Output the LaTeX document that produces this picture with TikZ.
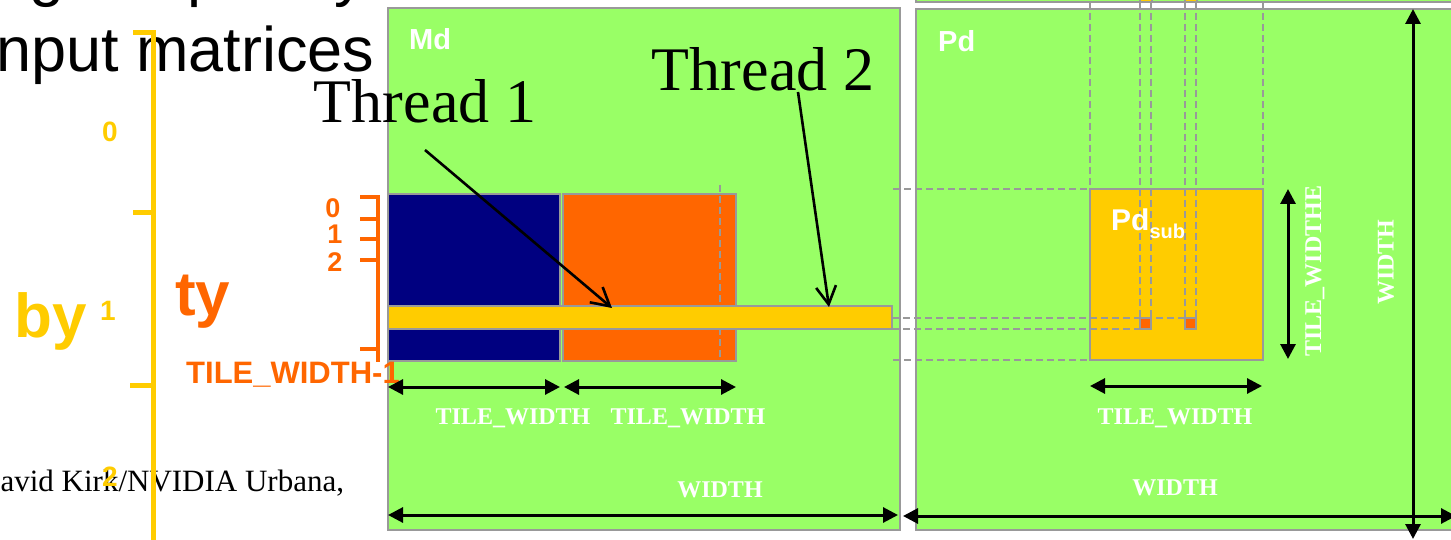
\documentclass[tikz,border=0pt]{standalone}
\usepackage{fontspec}
\setmainfont{Liberation Serif}
\setsansfont{Liberation Sans}
\usetikzlibrary{arrows.meta}

\definecolor{mgreen}{HTML}{99FF66}
\definecolor{mgray}{HTML}{999999}
\definecolor{mnavy}{HTML}{000080}
\definecolor{morange}{HTML}{FF6600}
\definecolor{myellow}{HTML}{FFCC00}

\newcommand{\fsz}[1]{\fontsize{#1}{#1}\selectfont}

\begin{document}
\begin{tikzpicture}[x=1pt,y=-1pt,
  box/.style={draw=mgray,line width=2.2pt,inner sep=0pt,outer sep=0pt},
  guide/.style={draw=mgray,line width=2pt,dash pattern=on 7pt off 4pt},
  dimline/.style={line width=3pt,{Triangle[length=15pt,width=15pt]}-{Triangle[length=15pt,width=15pt]}},
  pointer/.style={line width=2.6pt,-{Straight Barb[length=18pt,width=20pt]}},
  dimlabel/.style={text=white,font=\rmfamily\bfseries\fsz{24},inner sep=0pt},
  boxlabel/.style={text=white,font=\sffamily\bfseries\fsz{29},inner sep=0pt,anchor=base west},
  axisy/.style={draw=myellow,line width=5pt},
  axiso/.style={draw=morange,line width=4pt},
  ylabel/.style={text=myellow,font=\sffamily\bfseries\fsz{28},inner sep=0pt},
  olabel/.style={text=morange,font=\sffamily\bfseries\fsz{27},inner sep=0pt},
  title/.style={font=\sffamily\fsz{63},inner sep=0pt},
  threadlabel/.style={font=\rmfamily\fsz{62},inner sep=0pt,anchor=base}
]
\useasboundingbox (0,0) rectangle (1451,540);

% slide text behind the figure
\node[title,anchor=base east] (line1) at (366,-5) {using temporary};
\node[title,anchor=base west] (line2) at (-18,72) {input matrices};
\node[font=\rmfamily\fsz{31},inner sep=0pt,anchor=base west] (footer) at (-22,491) {David Kirk/NVIDIA Urbana,};

% block index axis
\draw[axisy] (133,33) -- (153,33) -- (153,545);
\draw[axisy] (133,213) -- (153,213);
\draw[axisy] (130,385) -- (153,385);
\node[ylabel] (by0) at (110,132) {0};
\node[ylabel] (by1) at (108,311) {1};
\node[ylabel] (by2) at (110,477) {2};
\node[text=myellow,font=\sffamily\bfseries\fsz{62},inner sep=0pt,anchor=base west] (by) at (14,337) {by};

% matrices
\node[box,fill=mgreen,minimum width=512pt,minimum height=522pt] (md) at (644,269) {};
\node[box,fill=mgreen,minimum width=554pt,minimum height=521pt] (pd) at (1193,269.5) {};
\node[box,fill=mgreen,minimum width=554pt,minimum height=102pt] (nd) at (1193,-49) {};

% tiles of Md
\node[box,fill=mnavy,minimum width=172pt,minimum height=167pt] (mt0) at (474,277.5) {};
\node[box,fill=morange,minimum width=173pt,minimum height=167pt] (mt1) at (649.5,277.5) {};
\draw[guide] (720,185) -- (720,361);
\node[box,fill=myellow,minimum width=504pt,minimum height=23pt] (row) at (640,317.5) {};

% output tile
\node[box,fill=myellow,minimum width=173pt,minimum height=171pt] (pdsub) at (1176.5,274.5) {};

% guide lines
\draw[guide] (893,189) -- (1090,189);
\draw[guide] (893,360) -- (1090,360);
\draw[guide] (892,318) -- (1185,318);
\draw[guide] (892,329) -- (1151,329);
\draw[guide] (1090,2) -- (1090,189);
\draw[guide] (1263,2) -- (1263,189);
\draw[guide] (1140,2) -- (1140,318);
\draw[guide] (1151,2) -- (1151,329);
\draw[guide] (1185,2) -- (1185,318);
\draw[guide] (1196,2) -- (1196,329);

% thread elements
\node[box,fill=morange,minimum width=11pt,minimum height=11pt] (e1) at (1145.5,323.5) {};
\node[box,fill=morange,minimum width=11pt,minimum height=11pt] (e2) at (1190.5,323.5) {};
\node[box,fill=myellow,minimum width=12pt,minimum height=12pt] (n1) at (1146,-4) {};
\node[box,fill=myellow,minimum width=12pt,minimum height=12pt] (n2) at (1191,-4) {};

% labels
\node[boxlabel] (mdl) at (409,50) {Md};
\node[boxlabel] (pdl) at (938,52) {Pd};
\node[boxlabel,font=\sffamily\bfseries\fsz{30}] (pdsubl) at (1111,230) {Pd\raisebox{-8pt}{\fsz{20}sub}};

% thread index axis
\draw[axiso] (360,197) -- (378,197) -- (378,362);
\foreach \yy in {219,239,260,349} \draw[axiso] (360,\yy) -- (378,\yy);
\node[olabel] (ty0) at (333,208) {0};
\node[olabel] (ty1) at (335,234) {1};
\node[olabel] (ty2) at (335,262) {2};
\node[text=morange,font=\sffamily\bfseries\fsz{62},inner sep=0pt,anchor=base west] (ty) at (175,315) {ty};
\node[text=morange,font=\sffamily\bfseries\fsz{31},inner sep=0pt,anchor=base west] (tylast) at (186,383) {TILE\_WIDTH-1};

% dimensions
\coordinate (a1) at (388,387); \coordinate (b1) at (560,387);
\coordinate (a2) at (564,387); \coordinate (b2) at (736,387);
\coordinate (a3) at (388,515); \coordinate (b3) at (898,515);
\coordinate (a4) at (903,516); \coordinate (b4) at (1456,516);
\coordinate (a5) at (1090,386); \coordinate (b5) at (1262,386);
\coordinate (a6) at (1288,189); \coordinate (b6) at (1288,359);
\coordinate (a7) at (1413,9); \coordinate (b7) at (1413,539);
\draw[dimline] (a1) -- (b1);
\draw[dimline] (a2) -- (b2);
\draw[dimline] (a3) -- (b3);
\draw[dimline] (a4) -- (b4);
\draw[dimline] (a5) -- (b5);
\draw[dimline] (a6) -- (b6);
\draw[dimline] (a7) -- (b7);
\node[dimlabel] (l1) at (513,418) {TILE\_WIDTH};
\node[dimlabel] (l2) at (688,418) {TILE\_WIDTH};
\node[dimlabel] (l3) at (720,490) {WIDTH};
\node[dimlabel] (l4) at (1175,488) {WIDTH};
\node[dimlabel] (l5) at (1175,418) {TILE\_WIDTH};
\node[dimlabel,rotate=90] (l6) at (1315,271) {TILE\_WIDTHE};
\node[dimlabel,rotate=90] (l7) at (1386,262) {WIDTH};

% threads
\node[threadlabel] (t1) at (425,123) {Thread 1};
\node[threadlabel] (t2) at (763,91) {Thread 2};
\coordinate (t1s) at (425,150);
\coordinate (t2s) at (798,92);
\coordinate (t1e) at (612,308);
\coordinate (t2e) at (829,307);
\draw[pointer] (t1s) -- (t1e);
\draw[pointer] (t2s) -- (t2e);
\end{tikzpicture}
\end{document}
